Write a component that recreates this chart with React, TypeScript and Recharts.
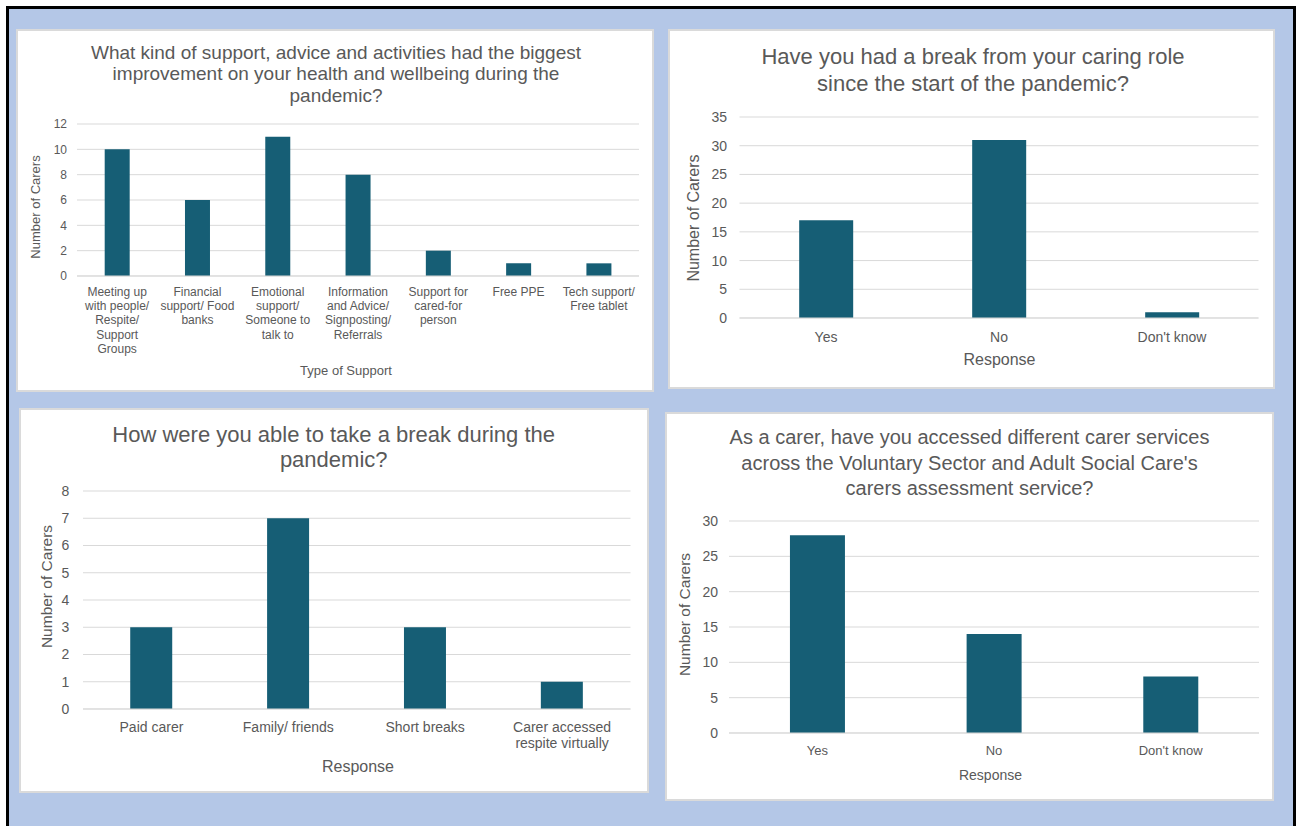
import { BarChart, Bar, XAxis, YAxis, CartesianGrid } from "recharts"

const FONT = '"Liberation Sans", Arial, sans-serif'
const TEXT = "#595959"
const GRID = "#D9D9D9"
const BAR = "#165E75"
const BACKDROP = "#B4C7E7"
const EDGE = "#DADADA"

// Support that helped most
const supportTypes = [
  "Meeting up\nwith people/\nRespite/\nSupport\nGroups",
  "Financial\nsupport/ Food\nbanks",
  "Emotional\nsupport/\nSomeone to\ntalk to",
  "Information\nand Advice/\nSignposting/\nReferrals",
  "Support for\ncared-for\nperson",
  "Free PPE",
  "Tech support/\nFree tablet",
]
const supportCounts = [10, 6, 11, 8, 2, 1, 1]
const supportTicks = [0, 2, 4, 6, 8, 10, 12]

// Had a break since the start of the pandemic
const breakResponses = ["Yes", "No", "Don't know"]
const breakCounts = [17, 31, 1]
const breakTicks = [0, 5, 10, 15, 20, 25, 30, 35]

// How the break was taken
const breakMethods = ["Paid carer", "Family/ friends", "Short breaks", "Carer accessed\nrespite virtually"]
const breakMethodCounts = [3, 7, 3, 1]
const breakMethodTicks = [0, 1, 2, 3, 4, 5, 6, 7, 8]

// Accessed carer services
const serviceResponses = ["Yes", "No", "Don't know"]
const serviceCounts = [28, 14, 8]
const serviceTicks = [0, 5, 10, 15, 20, 25, 30]

const rowsOf = (names: string[], values: number[]) => names.map((name, i) => ({ name, value: values[i] }))

const wrappedTick = (fontSize: number, firstDy: number, lineHeight: number) => (props: any) => {
  const { x, y, payload } = props
  const lines = String(payload.value).split("\n")
  return (
    <text x={x} y={y} textAnchor="middle" fill={TEXT} fontSize={fontSize} fontFamily={FONT}>
      {lines.map((line, i) => (
        <tspan key={i} x={x} dy={i === 0 ? firstDy : lineHeight}>
          {line}
        </tspan>
      ))}
    </text>
  )
}

type PanelProps = {
  left: number
  top: number
  width: number
  height: number
  title: string[]
  titleSize: number
  titleX: number
  titleY: number
  titleLine: number
  names: string[]
  values: number[]
  ticks: number[]
  plot: { left: number; right: number; top: number; bottom: number }
  tickFont: number
  yTickFont: number
  yTickGap: number
  xTickDy: number
  xTickLine: number
  xTitle: string
  xTitleSize: number
  xTitleX: number
  xTitleY: number
  yTitleSize: number
  yTitleX: number
  yTitleY: number
}

const Panel = (p: PanelProps) => {
  const rows = rowsOf(p.names, p.values)
  return (
    <div
      style={{
        position: "absolute",
        left: p.left,
        top: p.top,
        width: p.width,
        height: p.height,
        background: "#fff",
        boxShadow: `inset 0 0 0 2px ${EDGE}`,
      }}
    >
      <BarChart
        width={p.width}
        height={p.height}
        data={rows}
        margin={{ top: p.plot.top, right: p.plot.right, bottom: 0, left: 0 }}
        barCategoryGap="34.5%"
      >
        <CartesianGrid vertical={false} stroke={GRID} />
        <XAxis
          dataKey="name"
          height={p.plot.bottom}
          interval={0}
          tickLine={false}
          tickSize={0}
          tickMargin={0}
          axisLine={{ stroke: GRID }}
          tick={wrappedTick(p.tickFont, p.xTickDy, p.xTickLine)}
        />
        <YAxis
          width={p.plot.left}
          domain={[0, p.ticks[p.ticks.length - 1]]}
          ticks={p.ticks}
          interval={0}
          tickLine={false}
          axisLine={false}
          tickSize={0}
          tickMargin={p.yTickGap}
          tick={{ fill: TEXT, fontSize: p.yTickFont, fontFamily: FONT }}
        />
        <Bar dataKey="value" fill={BAR} isAnimationActive={false} />
      </BarChart>
      <svg
        width={p.width}
        height={p.height}
        style={{ position: "absolute", left: 0, top: 0, pointerEvents: "none" }}
        fontFamily={FONT}
        fill={TEXT}
      >
        {p.title.map((line, i) => (
          <text key={i} x={p.titleX} y={p.titleY + i * p.titleLine} textAnchor="middle" fontSize={p.titleSize}>
            {line}
          </text>
        ))}
        <text x={p.xTitleX} y={p.xTitleY} textAnchor="middle" fontSize={p.xTitleSize}>
          {p.xTitle}
        </text>
        <text
          transform={`translate(${p.yTitleX} ${p.yTitleY}) rotate(-90)`}
          textAnchor="middle"
          dominantBaseline="central"
          fontSize={p.yTitleSize}
        >
          Number of Carers
        </text>
      </svg>
    </div>
  )
}

const App = () => {
  return (
    <div style={{ position: "absolute", left: 0, top: 0, width: 1296, height: 826, background: "#fff" }}>
      <div
        style={{
          position: "absolute",
          left: 6,
          top: 6,
          width: 1290,
          height: 820,
          boxSizing: "border-box",
          borderTop: "3px solid #000",
          borderLeft: "3px solid #000",
          borderRight: "3px solid #000",
          background: BACKDROP,
        }}
      />
      <Panel
        left={16}
        top={29}
        width={638}
        height={363}
        title={[
          "What kind of support, advice and activities had the biggest",
          "improvement on your health and wellbeing during the",
          "pandemic?",
        ]}
        titleSize={19}
        titleX={320}
        titleY={29.5}
        titleLine={21.5}
        names={supportTypes}
        values={supportCounts}
        ticks={supportTicks}
        plot={{ left: 61, right: 15, top: 95, bottom: 116 }}
        tickFont={12}
        yTickFont={12}
        yTickGap={10}
        xTickDy={20}
        xTickLine={14.2}
        xTitle="Type of Support"
        xTitleSize={13}
        xTitleX={330}
        xTitleY={345.5}
        yTitleSize={13}
        yTitleX={19.5}
        yTitleY={178}
      />
      <Panel
        left={668}
        top={29}
        width={607}
        height={360}
        title={["Have you had a break from your caring role", "since the start of the pandemic?"]}
        titleSize={22}
        titleX={305}
        titleY={35}
        titleLine={26.7}
        names={breakResponses}
        values={breakCounts}
        ticks={breakTicks}
        plot={{ left: 71.5, right: 16.5, top: 88, bottom: 71 }}
        tickFont={14}
        yTickFont={14}
        yTickGap={12.5}
        xTickDy={23.7}
        xTickLine={16}
        xTitle="Response"
        xTitleSize={16}
        xTitleX={331.5}
        xTitleY={335.5}
        yTitleSize={16}
        yTitleX={25.3}
        yTitleY={189}
      />
      <Panel
        left={19}
        top={408}
        width={630}
        height={385}
        title={["How were you able to take a break during the", "pandemic?"]}
        titleSize={22}
        titleX={314.7}
        titleY={33.7}
        titleLine={25}
        names={breakMethods}
        values={breakMethodCounts}
        ticks={breakMethodTicks}
        plot={{ left: 64, right: 18.5, top: 83, bottom: 84 }}
        tickFont={14}
        yTickFont={14}
        yTickGap={13.6}
        xTickDy={22.5}
        xTickLine={16.7}
        xTitle="Response"
        xTitleSize={16}
        xTitleX={339}
        xTitleY={363.5}
        yTitleSize={15.5}
        yTitleX={27.7}
        yTitleY={178.5}
      />
      <Panel
        left={665}
        top={412}
        width={609}
        height={389}
        title={[
          "As a carer, have you accessed different carer services",
          "across the Voluntary Sector and Adult Social Care's",
          "carers assessment service?",
        ]}
        titleSize={20}
        titleX={304.5}
        titleY={32}
        titleLine={25.5}
        names={serviceResponses}
        values={serviceCounts}
        ticks={serviceTicks}
        plot={{ left: 64, right: 15, top: 109, bottom: 68 }}
        tickFont={13}
        yTickFont={14}
        yTickGap={11}
        xTickDy={22.4}
        xTickLine={15}
        xTitle="Response"
        xTitleSize={14}
        xTitleX={325.5}
        xTitleY={368}
        yTitleSize={15.5}
        yTitleX={19.7}
        yTitleY={202.5}
      />
    </div>
  )
}

export default App
